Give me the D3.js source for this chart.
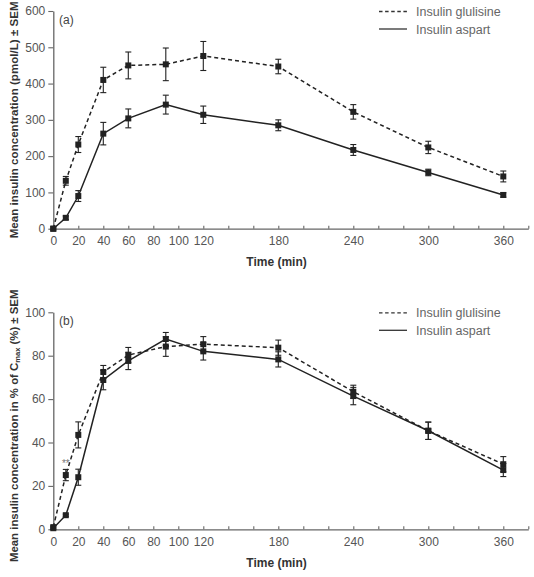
<!DOCTYPE html>
<html><head><meta charset="utf-8">
<script src="https://cdn.jsdelivr.net/npm/d3@7"></script>
<style>body{margin:0;background:#fff}svg{display:block}text{font-family:"Liberation Sans",Arial,sans-serif}</style>
</head><body>
<script>
const times = [0,10,20,40,60,90,120,180,240,300,360];
// Panel (a): pmol/L
const glulisineA = [0,132,232,410,450,453,476,447,322,224,144];
const glulisineA_sem = [0,12,22,35,37,45,40,20,20,17,15];
const aspartA = [0,30,90,262,304,342,314,285,217,155,93];
const aspartA_sem = [0,5,15,31,26,26,24,15,15,9,6];
// Panel (b): % of Cmax
const glulisineB = [1,25,43.5,72.5,80.3,84.2,85.3,83.7,63.4,45.4,30];
const glulisineB_sem = [0,2.6,6,3,3.5,4.5,3.5,3.5,3,4,3.5];
const aspartB = [0.5,6.5,24,68.8,77.6,87.7,82,78.3,61.4,45.4,27.3];
const aspartB_sem = [0,0.5,3.7,4.5,4,3,4,3.5,4,4,3];
const xTickVals = [0,20,40,60,80,100,120,140,160,180,200,220,240,260,280,300,320,340,360,380];
const xTickLabels = [0,20,40,60,80,100,120,180,240,300,360];
const yTicksA = [0,100,200,300,400,500,600];
const yTicksB = [0,20,40,60,80,100];
const seriesNames = ["Insulin glulisine","Insulin aspart"];

const W=534,H=577;
const svg=d3.select("body").append("svg").attr("width",W).attr("height",H);
const axisCol="#666", textCol="#555", lineCol="#222";

function panel(cfg){
  const g=svg.append("g");
  const x=d3.scaleLinear().domain([0,380]).range([53.3,528.3]);
  const y=d3.scaleLinear().domain(cfg.ydom).range(cfg.yrange);
  // x axis
  const xa=g.append("g").attr("transform",`translate(0,${cfg.yrange[0]})`)
    .call(d3.axisBottom(x).tickValues(xTickVals).tickSize(-3).tickSizeOuter(0)
      .tickFormat(d=>xTickLabels.includes(d)?d:""));
  xa.select(".domain").attr("stroke",axisCol).attr("stroke-width",1.3);
  xa.selectAll(".tick line").attr("stroke",axisCol).attr("stroke-width",1.1);
  xa.selectAll(".tick text").attr("fill",textCol).attr("font-size",12).attr("dy",0).attr("y",16.5);
  // y axis
  const ya=g.append("g").attr("transform",`translate(${x(0)},0)`)
    .call(d3.axisLeft(y).tickValues(cfg.yticks).tickSize(5).tickSizeOuter(0).tickPadding(3));
  ya.select(".domain").attr("stroke",axisCol).attr("stroke-width",1.3);
  ya.selectAll(".tick line").attr("stroke",axisCol).attr("stroke-width",1.1);
  ya.selectAll(".tick text").attr("fill",textCol).attr("font-size",12);
  // x title
  g.append("text").attr("x",276.5).attr("y",cfg.yrange[0]+37.5).attr("text-anchor","middle")
    .attr("font-size",12).attr("font-weight","bold").attr("fill","#333").text("Time (min)");
  // y title
  const yt=g.append("text").attr("transform",`translate(17.5,${(cfg.yrange[0]+cfg.yrange[1])/2+cfg.ytshift}) rotate(-90)`)
    .attr("text-anchor","middle").attr("font-size",cfg.ytsize).attr("font-weight","bold").attr("fill","#333");
  cfg.ytitle(yt);
  // panel label
  g.append("text").attr("x",59).attr("y",cfg.yrange[1]+12.5).attr("font-size",12).attr("fill","#444").text(cfg.label);
  // series
  const series=[
    {v:cfg.glu,s:cfg.gluS,dash:"4,3"},
    {v:cfg.asp,s:cfg.aspS,dash:null}
  ];
  const line=d3.line().x((d,i)=>x(times[i])).y(d=>y(d));
  series.forEach(sr=>{
    g.append("path").datum(sr.v).attr("d",line).attr("fill","none").attr("stroke",lineCol)
      .attr("stroke-width",1.5).attr("stroke-dasharray",sr.dash);
    const eb=g.append("g");
    sr.v.forEach((v,i)=>{
      const e=sr.s[i]; if(!e) return;
      const cx=x(times[i]);
      eb.append("line").attr("x1",cx).attr("x2",cx).attr("y1",y(v-e)).attr("y2",y(v+e)).attr("stroke",lineCol).attr("stroke-width",1.1);
      [v-e,v+e].forEach(t=>eb.append("line").attr("x1",cx-3).attr("x2",cx+3).attr("y1",y(t)).attr("y2",y(t)).attr("stroke",lineCol).attr("stroke-width",1.1));
    });
    g.selectAll(null).data(sr.v).enter().append("rect")
      .attr("x",(d,i)=>x(times[i])-3).attr("y",d=>y(d)-3).attr("width",6).attr("height",6).attr("fill",lineCol);
  });
  // legend
  const lg=g.append("g");
  [0,1].forEach(k=>{
    const ly=cfg.yrange[1]+0.5+k*17.5;
    lg.append("line").attr("x1",379).attr("x2",407).attr("y1",ly).attr("y2",ly).attr("stroke","#333")
      .attr("stroke-width",1.3).attr("stroke-dasharray",k==0?"3.5,2.6":null);
    lg.append("text").attr("x",416).attr("y",ly+4.5).attr("font-size",12.5).attr("fill","#666").text(seriesNames[k]);
  });
  return {x,y,g};
}

panel({ydom:[0,600],yrange:[228.7,11],yticks:yTicksA,label:"(a)",ytsize:11.6,ytshift:0,
  glu:glulisineA,gluS:glulisineA_sem,asp:aspartA,aspS:aspartA_sem,
  ytitle:t=>t.text("Mean insulin concentration (pmol/L) ± SEM")});
const pb=panel({ydom:[0,100],yrange:[529.3,312.3],yticks:yTicksB,label:"(b)",ytsize:11.4,ytshift:5,
  glu:glulisineB,gluS:glulisineB_sem,asp:aspartB,aspS:aspartB_sem,
  ytitle:t=>{t.append("tspan").text("Mean insulin concentration in % of C");
    t.append("tspan").attr("font-size",7.5).attr("dy",2).text("max");
    t.append("tspan").attr("dy",-2).text(" (%) ± SEM");}});
pb.g.append("text").attr("x",pb.x(10)).attr("y",pb.y(28.5)).attr("text-anchor","middle")
  .attr("font-size",10).attr("fill","#777").text("**");
</script>
</body></html>
